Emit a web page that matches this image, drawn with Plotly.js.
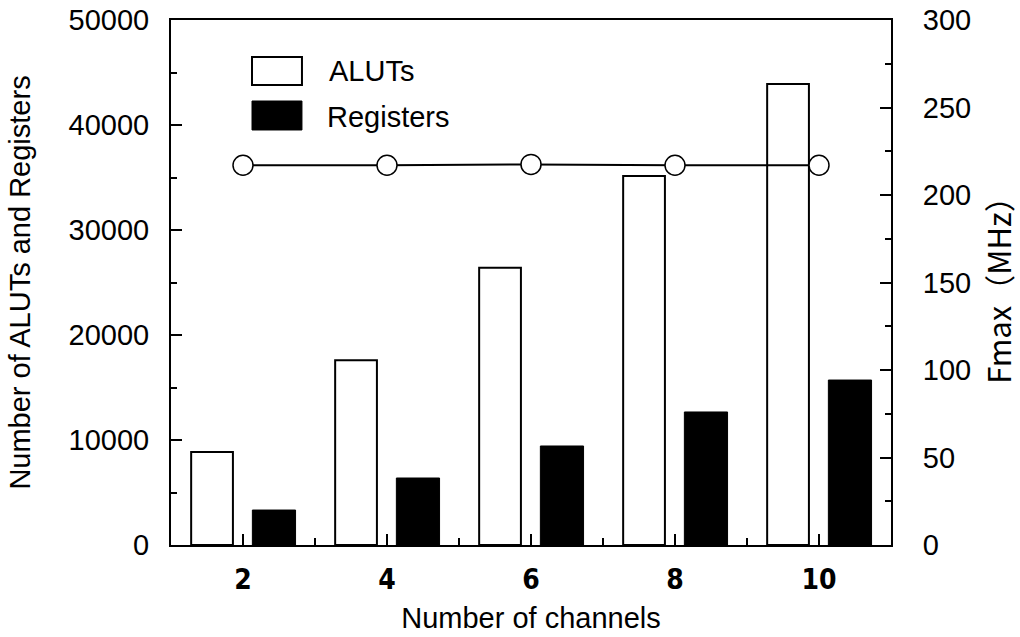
<!DOCTYPE html>
<html>
<head>
<meta charset="utf-8">
<script src="https://cdn.plot.ly/plotly-3.0.1.min.js"></script>
<style>
  html, body { margin: 0; padding: 0; background: #fff; }
  #chart { width: 1020px; height: 637px; }
</style>
</head>
<body>
<div id="chart"></div>
<script>
// Resource usage and maximum clock frequency versus number of channels
const channels = [2, 4, 6, 8, 10];
const aluts = [8850, 17600, 26400, 35150, 43900];
const registers = [3330, 6380, 9430, 12670, 15710];
const fmax = [217, 217, 217.5, 217, 217];

const seriesNames = ['ALUTs', 'Registers'];
const xTitle = 'Number of channels';
const yTitle = 'Number of ALUTs and Registers';
const y2Title = 'Fmax\uFF08MHz\uFF09';

const sansFont = 'Liberation Sans, Arial, sans-serif';

const traces = [
  {
    type: 'bar', name: seriesNames[0], x: channels, y: aluts,
    width: 0.58, offset: -0.72,
    marker: { color: '#ffffff', line: { color: '#000000', width: 2 } },
    showlegend: false, yaxis: 'y'
  },
  {
    type: 'bar', name: seriesNames[1], x: channels, y: registers,
    width: 0.6, offset: 0.13,
    marker: { color: '#000000', line: { color: '#000000', width: 1 } },
    showlegend: false, yaxis: 'y'
  },
  {
    type: 'scatter', mode: 'lines+markers', name: 'Fmax', x: channels, y: fmax,
    line: { color: '#000000', width: 2 },
    marker: { symbol: 'circle', size: 20, color: '#ffffff', line: { color: '#000000', width: 1.5 } },
    showlegend: false, yaxis: 'y2', cliponaxis: false
  }
];

// Legend swatches drawn as paper-referenced boxes with text beside them
const legendShapes = [
  { type: 'rect', xref: 'paper', yref: 'paper', x0: 0.1125, x1: 0.1819, y0: 0.8762, y1: 0.9295,
    fillcolor: '#ffffff', line: { color: '#000000', width: 2 } },
  { type: 'rect', xref: 'paper', yref: 'paper', x0: 0.1125, x1: 0.1819, y0: 0.7905, y1: 0.8457,
    fillcolor: '#000000', line: { color: '#000000', width: 1 } }
];
const legendLabels = [
  { text: seriesNames[0], xref: 'paper', yref: 'paper', x: 0.2167, y: 0.9029,
    xanchor: 'left', yanchor: 'middle', showarrow: false, font: { family: sansFont, size: 29, color: '#000' } },
  { text: seriesNames[1], xref: 'paper', yref: 'paper', x: 0.2140, y: 0.8152,
    xanchor: 'left', yanchor: 'middle', showarrow: false, font: { family: sansFont, size: 29, color: '#000' } }
];

const layout = {
  width: 1020, height: 637,
  margin: { l: 171, r: 129, t: 20, b: 92 },
  paper_bgcolor: '#ffffff', plot_bgcolor: '#ffffff',
  barmode: 'group',
  xaxis: {
    range: [1, 11], tickvals: channels, ticktext: channels.map(String),
    showline: true, linecolor: '#000', linewidth: 2, mirror: true,
    showgrid: false, zeroline: false,
    ticks: 'inside', ticklen: 11, tickwidth: 2, tickcolor: '#000',
    minor: { ticks: 'inside', ticklen: 7, tickwidth: 2, tickcolor: '#000', tickvals: [3, 5, 7, 9] },
    tickfont: { family: 'Liberation Sans Narrow, DejaVu Sans Condensed, Arial Narrow, sans-serif', size: 28, weight: 'bold', color: '#000' },
    ticklabelstandoff: 8,
    title: { text: xTitle, font: { family: sansFont, size: 29, color: '#000' }, standoff: 13 },
    automargin: false
  },
  yaxis: {
    range: [0, 50000], dtick: 10000, tickformat: 'd', exponentformat: 'none', separatethousands: false,
    showline: true, linecolor: '#000', linewidth: 2,
    showgrid: false, zeroline: false,
    ticks: 'inside', ticklen: 11, tickwidth: 2, tickcolor: '#000',
    minor: { ticks: 'inside', ticklen: 6, tickwidth: 2, tickcolor: '#000', dtick: 5000 },
    tickfont: { family: sansFont, size: 29, color: '#000' },
    ticklabelstandoff: 14,
    title: { text: yTitle, font: { family: sansFont, size: 29, color: '#000' }, standoff: 29 },
    automargin: false
  },
  yaxis2: {
    range: [0, 300], dtick: 50, overlaying: 'y', side: 'right',
    showline: true, linecolor: '#000', linewidth: 2,
    showgrid: false, zeroline: false,
    ticks: 'inside', ticklen: 11, tickwidth: 2, tickcolor: '#000',
    minor: { ticks: 'inside', ticklen: 6, tickwidth: 2, tickcolor: '#000', dtick: 25 },
    tickfont: { family: sansFont, size: 29, color: '#000' },
    ticklabelstandoff: 24,
    title: { text: y2Title, font: { family: 'Noto Sans CJK JP, sans-serif', size: 31, color: '#000' }, standoff: 20 },
    automargin: false
  },
  shapes: legendShapes,
  annotations: legendLabels
};

Plotly.newPlot('chart', traces, layout, { displayModeBar: false, staticPlot: true });
</script>
</body>
</html>
